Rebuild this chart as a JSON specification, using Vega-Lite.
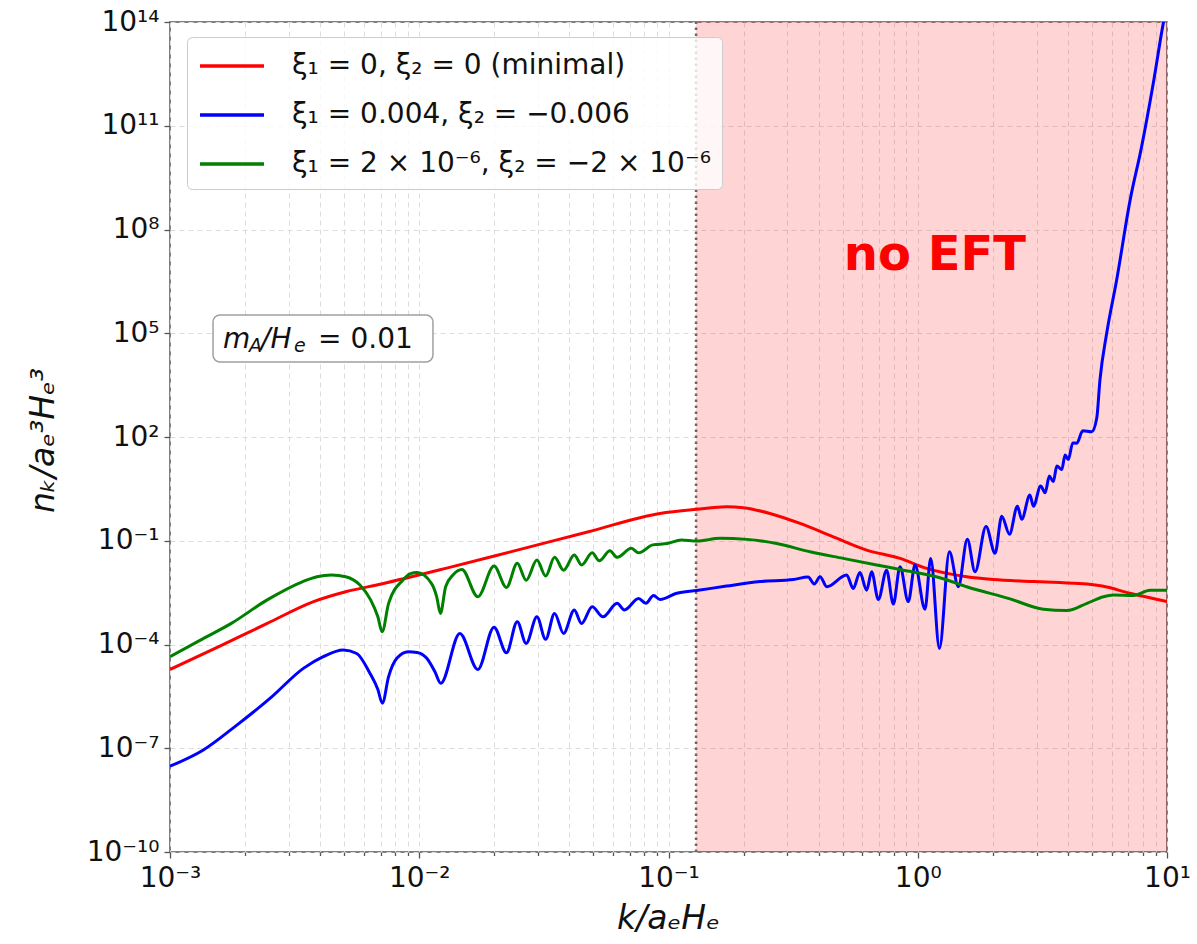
{
  "$schema": "https://vega.github.io/schema/vega-lite/v6.json",
  "width": 997,
  "height": 830,
  "autosize": {"type": "none"},
  "padding": {"left": 170, "top": 22, "right": 30, "bottom": 92},
  "background": "white",
  "config": {
    "font": "DejaVu Sans",
    "view": {"stroke": "#555555", "strokeWidth": 1.5},
    "axis": {
      "labelFont": "DejaVu Sans",
      "labelFontSize": 28,
      "labelColor": "#111111",
      "tickColor": "#555555",
      "tickWidth": 1.3,
      "domain": false,
      "gridColor": "#dcdcdc",
      "gridDash": [5, 4],
      "gridWidth": 1,
      "titleFont": "DejaVu Sans",
      "titleFontWeight": "normal",
      "titleFontStyle": "italic",
      "titleFontSize": 33,
      "titleColor": "#111111"
    }
  },
  "datasets": {
    "curves": [
      {"s": "min", "k": 0.001, "n": 1.905e-5},
      {"s": "min", "k": 0.001585, "n": 8.913e-5},
      {"s": "min", "k": 0.002455, "n": 4.074e-4},
      {"s": "min", "k": 0.003767, "n": 1.738e-3},
      {"s": "min", "k": 0.00507, "n": 3.35e-3},
      {"s": "min", "k": 0.007047, "n": 5.623e-3},
      {"s": "min", "k": 0.01276, "n": 1.585e-2},
      {"s": "min", "k": 0.02472, "n": 5.37e-2},
      {"s": "min", "k": 0.04775, "n": 0.182},
      {"s": "min", "k": 0.09247, "n": 0.6166},
      {"s": "min", "k": 0.1297, "n": 0.8128},
      {"s": "min", "k": 0.171, "n": 0.955},
      {"s": "min", "k": 0.1995, "n": 0.9016},
      {"s": "min", "k": 0.2553, "n": 0.6166},
      {"s": "min", "k": 0.3373, "n": 0.3162},
      {"s": "min", "k": 0.4581, "n": 0.1303},
      {"s": "min", "k": 0.6237, "n": 0.0537},
      {"s": "min", "k": 0.8492, "n": 0.0309},
      {"s": "min", "k": 1.086, "n": 0.01585},
      {"s": "min", "k": 1.571, "n": 9.12e-3},
      {"s": "min", "k": 2.009, "n": 7.586e-3},
      {"s": "min", "k": 2.911, "n": 6.607e-3},
      {"s": "min", "k": 3.724, "n": 6.166e-3},
      {"s": "min", "k": 4.775, "n": 5.623e-3},
      {"s": "min", "k": 5.5, "n": 4.898e-3},
      {"s": "min", "k": 7.112, "n": 3.02e-3},
      {"s": "min", "k": 10, "n": 1.738e-3},

      {"s": "big", "k": 0.001, "n": 3.02e-8},
      {"s": "big", "k": 0.001361, "n": 8.913e-8},
      {"s": "big", "k": 0.001854, "n": 4.677e-7},
      {"s": "big", "k": 0.002518, "n": 2.754e-6},
      {"s": "big", "k": 0.003428, "n": 2.042e-5},
      {"s": "big", "k": 0.004121, "n": 4.467e-5},
      {"s": "big", "k": 0.004955, "n": 6.918e-5},
      {"s": "big", "k": 0.005611, "n": 5.495e-5},
      {"s": "big", "k": 0.006339, "n": 1.479e-5},
      {"s": "big", "k": 0.006823, "n": 5.0e-6},
      {"s": "big", "k": 0.00711, "n": 2.0e-6},
      {"s": "big", "k": 0.007534, "n": 1.175e-5},
      {"s": "big", "k": 0.008128, "n": 3.981e-5},
      {"s": "big", "k": 0.009036, "n": 6.166e-5},
      {"s": "big", "k": 0.009795, "n": 5.9e-5},
      {"s": "big", "k": 0.01072, "n": 3.981e-5},
      {"s": "big", "k": 0.01156, "n": 1.622e-5},
      {"s": "big", "k": 0.0122, "n": 7.586e-6},
      {"s": "big", "k": 0.01455, "n": 2.089e-4},
      {"s": "big", "k": 0.01718, "n": 1.905e-5},
      {"s": "big", "k": 0.01995, "n": 3.162e-4},
      {"s": "big", "k": 0.02239, "n": 5.754e-5},
      {"s": "big", "k": 0.02472, "n": 4.571e-4},
      {"s": "big", "k": 0.02685, "n": 1.072e-4},
      {"s": "big", "k": 0.02965, "n": 6.31e-4},
      {"s": "big", "k": 0.03214, "n": 1.413e-4},
      {"s": "big", "k": 0.03491, "n": 7.943e-4},
      {"s": "big", "k": 0.03793, "n": 2.089e-4},
      {"s": "big", "k": 0.04188, "n": 1.0e-3},
      {"s": "big", "k": 0.04477, "n": 4.074e-4},
      {"s": "big", "k": 0.04943, "n": 1.23e-3},
      {"s": "big", "k": 0.05458, "n": 6.31e-4},
      {"s": "big", "k": 0.06223, "n": 1.549e-3},
      {"s": "big", "k": 0.06653, "n": 1.0e-3},
      {"s": "big", "k": 0.07586, "n": 2.138e-3},
      {"s": "big", "k": 0.0811, "n": 1.549e-3},
      {"s": "big", "k": 0.0871, "n": 2.63e-3},
      {"s": "big", "k": 0.09247, "n": 1.995e-3},
      {"s": "big", "k": 0.1079, "n": 3.02e-3},
      {"s": "big", "k": 0.1297, "n": 3.631e-3},
      {"s": "big", "k": 0.171, "n": 4.898e-3},
      {"s": "big", "k": 0.2328, "n": 6.607e-3},
      {"s": "big", "k": 0.317, "n": 7.586e-3},
      {"s": "big", "k": 0.3631, "n": 8.913e-3},
      {"s": "big", "k": 0.3846, "n": 5.623e-3},
      {"s": "big", "k": 0.4055, "n": 9.12e-3},
      {"s": "big", "k": 0.4315, "n": 4.677e-3},
      {"s": "big", "k": 0.5188, "n": 1.023e-2},
      {"s": "big", "k": 0.5508, "n": 4.169e-3},
      {"s": "big", "k": 0.5861, "n": 1.202e-2},
      {"s": "big", "k": 0.6237, "n": 3.715e-3},
      {"s": "big", "k": 0.6531, "n": 1.259e-2},
      {"s": "big", "k": 0.695, "n": 1.995e-3},
      {"s": "big", "k": 0.7499, "n": 1.413e-2},
      {"s": "big", "k": 0.798, "n": 1.479e-3},
      {"s": "big", "k": 0.8492, "n": 1.778e-2},
      {"s": "big", "k": 0.9162, "n": 1.738e-3},
      {"s": "big", "k": 0.975, "n": 1.995e-2},
      {"s": "big", "k": 1.069, "n": 1.047e-3},
      {"s": "big", "k": 1.127, "n": 0.0309},
      {"s": "big", "k": 1.222, "n": 7.762e-5},
      {"s": "big", "k": 1.34, "n": 0.04786},
      {"s": "big", "k": 1.455, "n": 4.677e-3},
      {"s": "big", "k": 1.581, "n": 0.1096},
      {"s": "big", "k": 1.698, "n": 1.259e-2},
      {"s": "big", "k": 1.879, "n": 0.257},
      {"s": "big", "k": 2.042, "n": 0.04365},
      {"s": "big", "k": 2.173, "n": 0.5129},
      {"s": "big", "k": 2.333, "n": 0.1549},
      {"s": "big", "k": 2.512, "n": 1.0},
      {"s": "big", "k": 2.612, "n": 0.4169},
      {"s": "big", "k": 2.818, "n": 2.089},
      {"s": "big", "k": 2.911, "n": 1.0},
      {"s": "big", "k": 3.112, "n": 3.802},
      {"s": "big", "k": 3.243, "n": 2.455},
      {"s": "big", "k": 3.373, "n": 7.413},
      {"s": "big", "k": 3.499, "n": 5.129},
      {"s": "big", "k": 3.614, "n": 14.45},
      {"s": "big", "k": 3.784, "n": 11.48},
      {"s": "big", "k": 3.899, "n": 30.2},
      {"s": "big", "k": 4.018, "n": 22.39},
      {"s": "big", "k": 4.188, "n": 67.61},
      {"s": "big", "k": 4.345, "n": 66.07},
      {"s": "big", "k": 4.592, "n": 151.4},
      {"s": "big", "k": 4.989, "n": 141.3},
      {"s": "big", "k": 5.224, "n": 346.7},
      {"s": "big", "k": 5.383, "n": 4467},
      {"s": "big", "k": 5.728, "n": 1.0e5},
      {"s": "big", "k": 6.281, "n": 3.467e6},
      {"s": "big", "k": 7.112, "n": 7.079e8},
      {"s": "big", "k": 7.907, "n": 2.455e10},
      {"s": "big", "k": 8.81, "n": 1.698e12},
      {"s": "big", "k": 9.661, "n": 9.12e13},
      {"s": "big", "k": 10, "n": 3.162e14},

      {"s": "small", "k": 0.001, "n": 4.467e-5},
      {"s": "small", "k": 0.001318, "n": 1.318e-4},
      {"s": "small", "k": 0.001762, "n": 4.074e-4},
      {"s": "small", "k": 0.002455, "n": 1.95e-3},
      {"s": "small", "k": 0.003412, "n": 6.607e-3},
      {"s": "small", "k": 0.00389, "n": 9.12e-3},
      {"s": "small", "k": 0.004446, "n": 1.023e-2},
      {"s": "small", "k": 0.00507, "n": 9.12e-3},
      {"s": "small", "k": 0.005781, "n": 5.248e-3},
      {"s": "small", "k": 0.006383, "n": 1.95e-3},
      {"s": "small", "k": 0.006823, "n": 6.31e-4},
      {"s": "small", "k": 0.007096, "n": 2.344e-4},
      {"s": "small", "k": 0.007534, "n": 1.549e-3},
      {"s": "small", "k": 0.00859, "n": 7.244e-3},
      {"s": "small", "k": 0.009183, "n": 1.096e-2},
      {"s": "small", "k": 0.009795, "n": 1.202e-2},
      {"s": "small", "k": 0.01119, "n": 5.888e-3},
      {"s": "small", "k": 0.01175, "n": 2.399e-3},
      {"s": "small", "k": 0.01216, "n": 7.943e-4},
      {"s": "small", "k": 0.01276, "n": 4.677e-3},
      {"s": "small", "k": 0.01365, "n": 1.023e-2},
      {"s": "small", "k": 0.01483, "n": 1.479e-2},
      {"s": "small", "k": 0.01718, "n": 2.399e-3},
      {"s": "small", "k": 0.01995, "n": 1.862e-2},
      {"s": "small", "k": 0.02239, "n": 4.467e-3},
      {"s": "small", "k": 0.02472, "n": 2.239e-2},
      {"s": "small", "k": 0.02685, "n": 7.244e-3},
      {"s": "small", "k": 0.02965, "n": 2.754e-2},
      {"s": "small", "k": 0.03214, "n": 9.55e-3},
      {"s": "small", "k": 0.03491, "n": 3.311e-2},
      {"s": "small", "k": 0.03793, "n": 1.413e-2},
      {"s": "small", "k": 0.04188, "n": 3.89e-2},
      {"s": "small", "k": 0.04477, "n": 1.995e-2},
      {"s": "small", "k": 0.04943, "n": 4.467e-2},
      {"s": "small", "k": 0.05272, "n": 2.63e-2},
      {"s": "small", "k": 0.05821, "n": 5.129e-2},
      {"s": "small", "k": 0.06223, "n": 3.311e-2},
      {"s": "small", "k": 0.07096, "n": 6.026e-2},
      {"s": "small", "k": 0.07586, "n": 4.467e-2},
      {"s": "small", "k": 0.0865, "n": 7.586e-2},
      {"s": "small", "k": 0.09886, "n": 8.318e-2},
      {"s": "small", "k": 0.1127, "n": 0.1047},
      {"s": "small", "k": 0.1297, "n": 0.0977},
      {"s": "small", "k": 0.1611, "n": 0.1175},
      {"s": "small", "k": 0.2061, "n": 0.1096},
      {"s": "small", "k": 0.2716, "n": 0.08318},
      {"s": "small", "k": 0.3698, "n": 0.04786},
      {"s": "small", "k": 0.5023, "n": 0.0309},
      {"s": "small", "k": 0.6839, "n": 0.02},
      {"s": "small", "k": 0.8492, "n": 0.01479},
      {"s": "small", "k": 1.265, "n": 7.943e-3},
      {"s": "small", "k": 1.57, "n": 4.677e-3},
      {"s": "small", "k": 2.344, "n": 2.089e-3},
      {"s": "small", "k": 3.192, "n": 1.047e-3},
      {"s": "small", "k": 3.963, "n": 9.55e-4},
      {"s": "small", "k": 4.775, "n": 1.549e-3},
      {"s": "small", "k": 5.559, "n": 2.399e-3},
      {"s": "small", "k": 6.095, "n": 2.692e-3},
      {"s": "small", "k": 7.328, "n": 2.63e-3},
      {"s": "small", "k": 8.551, "n": 3.715e-3},
      {"s": "small", "k": 10, "n": 3.715e-3}
    ]
  },
  "encoding": {
    "x": {
      "type": "quantitative",
      "scale": {"type": "log", "domain": [0.001, 10], "nice": false},
      "axis": {
        "title": "k/aₑHₑ",
        "titleX": 498,
        "titleY": 76,
        "titleBaseline": "alphabetic",
        "values": [0.001, 0.002, 0.003, 0.004, 0.005, 0.006, 0.007, 0.008, 0.009, 0.01, 0.02, 0.03, 0.04, 0.05, 0.06, 0.07, 0.08, 0.09, 0.1, 0.2, 0.3, 0.4, 0.5, 0.6, 0.7, 0.8, 0.9, 1, 2, 3, 4, 5, 6, 7, 8, 9, 10],
        "labelExpr": "abs(log(datum.value)/LN10 - round(log(datum.value)/LN10)) > 0.01 ? '' : datum.value < 0.005 ? '10⁻³' : datum.value < 0.05 ? '10⁻²' : datum.value < 0.5 ? '10⁻¹' : datum.value < 5 ? '10⁰' : '10¹'",
        "labelOverlap": false,
        "labelFlush": false,
        "labelPadding": 6,
        "tickSize": {"condition": {"test": "abs(log(datum.value)/LN10 - round(log(datum.value)/LN10)) < 0.01", "value": 6}, "value": 3.5},
        "grid": true
      }
    },
    "y": {
      "type": "quantitative",
      "scale": {"type": "log", "domain": [1e-10, 1e14], "nice": false},
      "axis": {
        "title": "nₖ/aₑ³Hₑ³",
        "titleX": -127,
        "titleY": 418,
        "titleAngle": 270,
        "titleAlign": "center",
        "titleBaseline": "middle",
        "values": [1e-10, 1e-7, 1e-4, 1e-1, 1e2, 1e5, 1e8, 1e11, 1e14],
        "labelExpr": "datum.value < 1e-9 ? '10⁻¹⁰' : datum.value < 1e-6 ? '10⁻⁷' : datum.value < 1e-3 ? '10⁻⁴' : datum.value < 1 ? '10⁻¹' : datum.value < 1e3 ? '10²' : datum.value < 1e6 ? '10⁵' : datum.value < 1e9 ? '10⁸' : datum.value < 1e12 ? '10¹¹' : '10¹⁴'",
        "labelOverlap": false,
        "labelFlush": false,
        "labelPadding": 5,
        "tickSize": 6,
        "grid": true
      }
    }
  },
  "layer": [
    {
      "data": {"values": [{}]},
      "mark": {"type": "rect", "color": "#ff0000", "opacity": 0.17},
      "encoding": {
        "x": {"datum": 0.129, "type": "quantitative"},
        "x2": {"datum": 10},
        "y": {"datum": 1e-10, "type": "quantitative"},
        "y2": {"datum": 1e14}
      }
    },
    {
      "data": {"values": [{}]},
      "mark": {"type": "rule", "color": "#666666", "strokeWidth": 2.5, "strokeDash": [2.5, 3.5]},
      "encoding": {
        "x": {"datum": 0.129, "type": "quantitative"},
        "y": {"datum": 1e-10, "type": "quantitative"},
        "y2": {"datum": 1e14}
      }
    },
    {
      "data": {"name": "curves"},
      "mark": {"type": "line", "strokeWidth": 3, "clip": true, "interpolate": "monotone"},
      "encoding": {
        "x": {"field": "k", "type": "quantitative"},
        "y": {"field": "n", "type": "quantitative"},
        "color": {
          "field": "s",
          "type": "nominal",
          "scale": {"domain": ["min", "big", "small"], "range": ["#ff0000", "#0000ff", "#008000"]},
          "legend": {
            "orient": "none",
            "legendX": 17,
            "legendY": 15,
            "title": null,
            "symbolType": "M-2,0H2",
            "symbolSize": 1024,
            "symbolStrokeWidth": 3.5,
            "symbolOffset": 16,
            "labelFont": "DejaVu Sans",
            "labelFontSize": 28,
            "labelColor": "#111111",
            "labelLimit": 0,
            "labelOffset": 42,
            "fillColor": "rgba(255,255,255,0.8)",
            "strokeColor": "#cccccc",
            "cornerRadius": 5,
            "padding": 11,
            "rowPadding": 17,
            "labelExpr": "datum.label == 'min' ? 'ξ₁ = 0, ξ₂ = 0 (minimal)' : datum.label == 'big' ? 'ξ₁ = 0.004, ξ₂ = −0.006' : 'ξ₁ = 2 × 10⁻⁶, ξ₂ = −2 × 10⁻⁶'"
          }
        }
      }
    },
    {
      "data": {"values": [{}]},
      "mark": {"type": "rect", "fill": "white", "stroke": "#a0a0a0", "strokeWidth": 1.5, "cornerRadius": 7},
      "encoding": {
        "x": {"datum": 0.001488, "type": "quantitative"},
        "x2": {"datum": 0.01135},
        "y": {"datum": 3.365e5, "type": "quantitative"},
        "y2": {"datum": 1.472e4}
      }
    },
    {
      "data": {"values": [{}]},
      "mark": {"type": "text", "text": "m", "fontSize": 28, "fontStyle": "italic", "align": "left", "baseline": "alphabetic", "color": "#111111"},
      "encoding": {"x": {"datum": 0.001633, "type": "quantitative"}, "y": {"datum": 3.74e4, "type": "quantitative"}}
    },
    {
      "data": {"values": [{}]},
      "mark": {"type": "text", "text": "A", "fontSize": 19, "fontStyle": "italic", "align": "left", "baseline": "alphabetic", "dx": 26, "dy": 4, "color": "#111111"},
      "encoding": {"x": {"datum": 0.001633, "type": "quantitative"}, "y": {"datum": 3.74e4, "type": "quantitative"}}
    },
    {
      "data": {"values": [{}]},
      "mark": {"type": "text", "text": "/H", "fontSize": 28, "fontStyle": "italic", "align": "left", "baseline": "alphabetic", "dx": 38, "color": "#111111"},
      "encoding": {"x": {"datum": 0.001633, "type": "quantitative"}, "y": {"datum": 3.74e4, "type": "quantitative"}}
    },
    {
      "data": {"values": [{}]},
      "mark": {"type": "text", "text": "e", "fontSize": 19, "fontStyle": "italic", "align": "left", "baseline": "alphabetic", "dx": 71, "dy": 4, "color": "#111111"},
      "encoding": {"x": {"datum": 0.001633, "type": "quantitative"}, "y": {"datum": 3.74e4, "type": "quantitative"}}
    },
    {
      "data": {"values": [{}]},
      "mark": {"type": "text", "text": "= 0.01", "fontSize": 28, "align": "left", "baseline": "alphabetic", "dx": 95, "color": "#111111"},
      "encoding": {"x": {"datum": 0.001633, "type": "quantitative"}, "y": {"datum": 3.74e4, "type": "quantitative"}}
    },
    {
      "data": {"values": [{}]},
      "mark": {"type": "text", "text": "no EFT", "fontSize": 48, "fontWeight": "bold", "align": "center", "baseline": "alphabetic", "color": "#ff0000"},
      "encoding": {"x": {"datum": 1.172, "type": "quantitative"}, "y": {"datum": 6.8e6, "type": "quantitative"}}
    }
  ]
}
